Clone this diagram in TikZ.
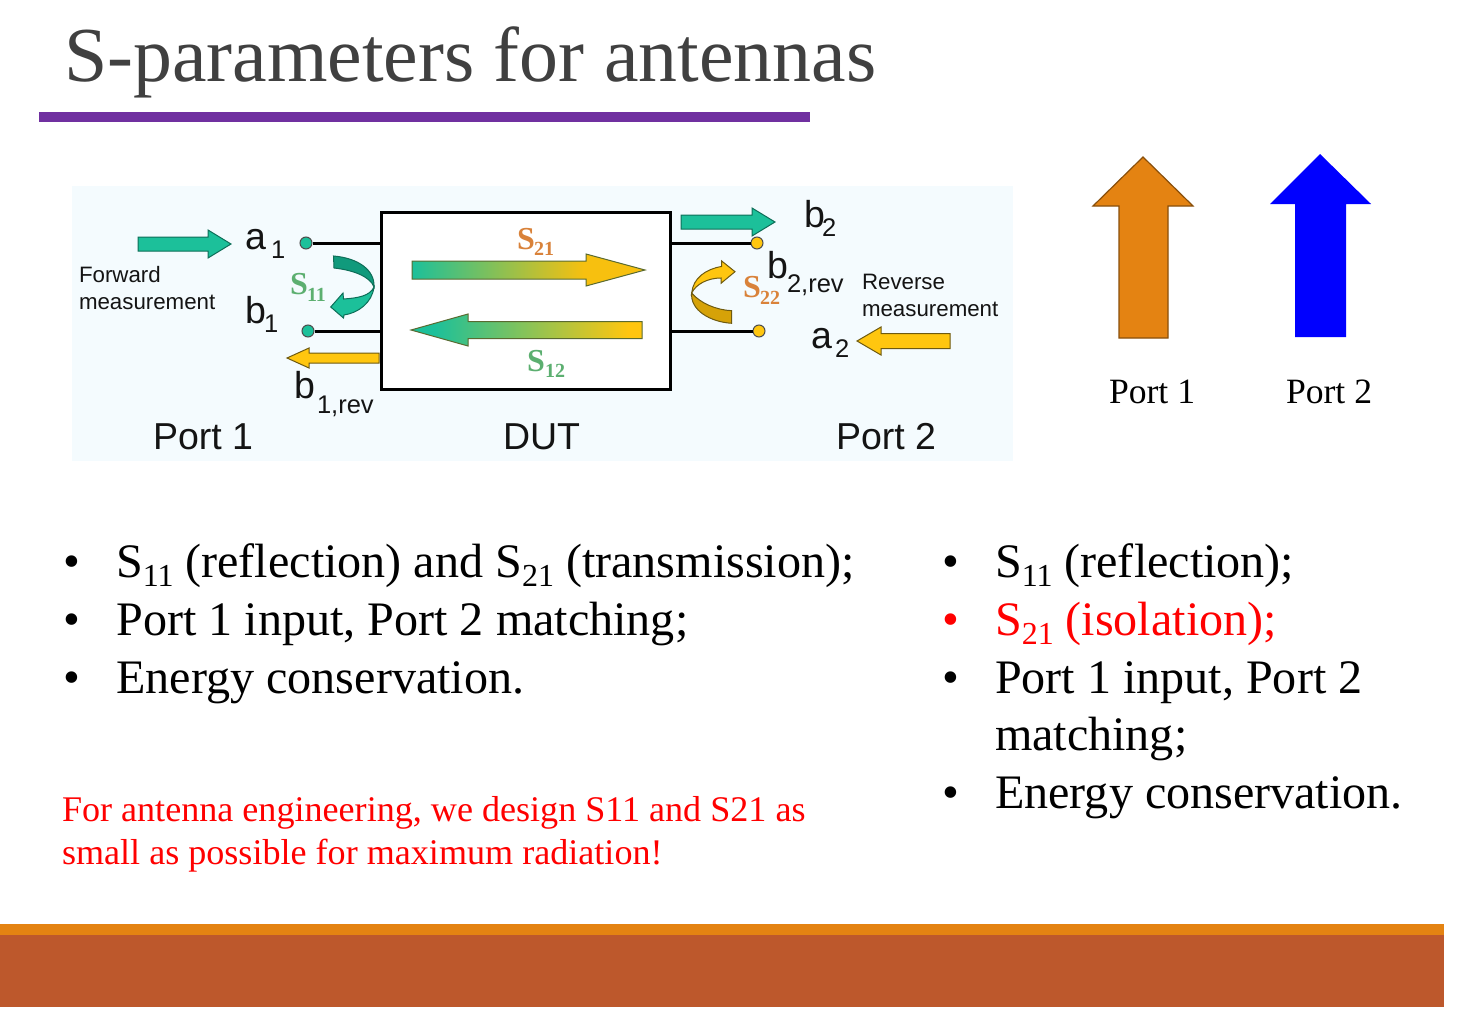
\documentclass[tikz,border=0pt]{standalone}
\usepackage{fontspec}
\setmainfont{Liberation Serif}
\newfontfamily\labelsans{Liberation Sans}
\definecolor{titlegrey}{HTML}{404040}
\definecolor{rulepurple}{HTML}{7030A0}
\definecolor{barorange}{HTML}{E48312}
\definecolor{barbrown}{HTML}{BD582C}
\definecolor{panelblue}{HTML}{F4FBFE}
\definecolor{inkdark}{HTML}{141414}
\definecolor{tealfill}{HTML}{1CC09A}
\definecolor{tealdark}{HTML}{109A7C}
\definecolor{tealedge}{HTML}{0E6E58}
\definecolor{amberfill}{HTML}{FFC60F}
\definecolor{amberdark}{HTML}{D6A208}
\definecolor{amberedge}{HTML}{6E5A10}
\definecolor{blendedge}{HTML}{5A6A30}
\definecolor{slabelorange}{HTML}{D9823A}
\definecolor{slabelgreen}{HTML}{5CAF70}
\definecolor{upred}{HTML}{FF0000}
% Gradients for the two transmission arrows: the amber or teal end stays solid over the head
\pgfdeclarehorizontalshading{forwardblend}{100bp}{color(0bp)=(tealfill); color(25bp)=(tealfill); color(62bp)=(amberfill!97!black); color(100bp)=(amberfill!97!black)}
\pgfdeclarehorizontalshading{reverseblend}{100bp}{color(0bp)=(tealfill); color(30bp)=(tealfill); color(72bp)=(amberfill); color(100bp)=(amberfill)}
% Type sizes are given in pixels of the 1461-wide page (1 px = 0.5 pt)
\newcommand{\pxfont}[1]{\fontsize{\fpeval{#1/2}}{\fpeval{#1/2*1.2}}\selectfont}
\newcommand{\lowered}[1]{\raisebox{-4.5pt}{\pxfont{32}#1}}
% Horizontal block arrow: style, tail x, tip x, y, shaft half height, head base x, head half height
\newcommand{\harrow}[7]{%
  \path[#1] (#2,{#4-#5}) -- (#6,{#4-#5}) -- (#6,{#4-#7}) -- (#3,#4) -- (#6,{#4+#7})
    -- (#6,{#4+#5}) -- (#2,{#4+#5}) -- cycle;}
% Vertical up arrow: style, left, shaft left, centre, shaft right, right, tip y, head base y, bottom y
\newcommand{\uparrowshape}[9]{%
  \path[#1] (#3,#9) -- (#3,#8) -- (#2,#8) -- (#4,#7) -- (#6,#8) -- (#5,#8) -- (#5,#9) -- cycle;}
\tikzset{
  x=0.5pt, y=-0.5pt,
  txt/.style={anchor=base west, inner sep=0pt, outer sep=0pt, font=\pxfont{48.1}, text=black},
  redtxt/.style={txt, font=\pxfont{36.1}, text=upred},
  sanstxt/.style={anchor=base west, inner sep=0pt, outer sep=0pt, text=inkdark},
  smalltxt/.style={sanstxt, font=\labelsans\pxfont{22.3}},
  bigtxt/.style={sanstxt, font=\labelsans\pxfont{37.5}},
  subtxt/.style={sanstxt, font=\labelsans\pxfont{25.5}},
  slabel/.style={anchor=base west, inner sep=0pt, outer sep=0pt, font=\bfseries\pxfont{32}},
  sindex/.style={anchor=base west, inner sep=0pt, outer sep=0pt, font=\bfseries\pxfont{20}},
  terminal/.style={circle, draw=black!70, line width=0.5pt, minimum size=6pt, inner sep=0pt},
  wire/.style={draw=black, line width=1.5pt},
  tealarrow/.style={draw=tealedge, line width=0.5pt, fill=tealfill},
  amberarrow/.style={draw=amberedge, line width=0.5pt, fill=amberfill},
  forwardarrow/.style={draw=blendedge, line width=0.5pt, shading=forwardblend},
  reversearrow/.style={draw=blendedge, line width=0.5pt, shading=reverseblend},
}
\begin{document}
\begin{tikzpicture}
\useasboundingbox (0,0) rectangle (1461,1022);
\fill[white] (0,0) rectangle (1461,1022);

% Heading and rule
\node[txt, font=\pxfont{77.8}, text=titlegrey] (title) at (64,82) {S-parameters for antennas};
\fill[rulepurple] (39,112) rectangle (810,122);

% Measurement panel
\fill[panelblue] (72,186) rectangle (1013,461);
\node[draw=black, line width=1.5pt, fill=white, minimum width=144.5pt, minimum height=88.5pt,
      inner sep=0pt, outer sep=0pt, anchor=north west] (dut) at (381,212) {};

% Port terminals and their wires
\node[terminal, fill=tealfill] (ta1) at (306,243) {};
\node[terminal, fill=tealfill] (tb1) at (308,331) {};
\node[terminal, fill=amberfill] (tb2) at (757,243) {};
\node[terminal, fill=amberfill] (ta2) at (759,331) {};
\draw[wire] (ta1) -- (ta1 -| dut.west);
\draw[wire] (tb1) -- (tb1 -| dut.west);
\draw[wire] (tb2) -- (tb2 -| dut.east);
\draw[wire] (ta2) -- (ta2 -| dut.east);

% Wave arrows
\harrow{tealarrow}{138}{231}{244}{7}{208}{14}
\harrow{amberarrow}{379}{287}{358}{5}{309}{10}
\harrow{forwardarrow}{412}{645}{270}{9}{586}{16}
\harrow{reversearrow}{642}{411}{330}{8.5}{468}{16}
\harrow{tealarrow}{681}{775}{222}{7}{752}{14}
\harrow{amberarrow}{950}{857}{341}{7.5}{881}{14}

% Reflection arrow at port 1
\path[draw=tealedge, line width=0.5pt, fill=tealdark]
  (333.5,256) .. controls (358,258) and (375,270) .. (374,287)
  .. controls (370,276) and (352,270) .. (334,268) -- cycle;
\path[draw=tealedge, line width=0.5pt, fill=tealfill]
  (374,287) .. controls (372,303) and (358,313) .. (344,315)
  -- (343.5,318) -- (330.7,307) -- (343,293) -- (343.5,299)
  .. controls (358,298) and (370,296) .. (374,287) -- cycle;

% Reflection arrow at port 2
\path[draw=amberedge, line width=0.5pt, fill=amberdark]
  (691.7,293) .. controls (700,303) and (716,310) .. (731.7,310.7)
  -- (731.7,323.3) .. controls (710,322) and (690,310) .. (691.7,293) -- cycle;
\path[draw=amberedge, line width=0.5pt, fill=amberfill]
  (691.7,293) .. controls (693,278) and (706,269) .. (721.5,266.5)
  -- (721.7,261) -- (735,271.7) -- (721,283.3) -- (721,278)
  .. controls (708,278) and (696,284) .. (691.7,293) -- cycle;

% S-parameter labels on the panel
\node[slabel, text=slabelorange] (s21) at (517,249) {S};
\node[sindex, text=slabelorange] (s21i) at (534,255) {21};
\node[slabel, text=slabelgreen] (s12) at (527,371) {S};
\node[sindex, text=slabelgreen] (s12i) at (545,377) {12};
\node[slabel, text=slabelgreen] (s11) at (290,294) {S};
\node[sindex, text=slabelgreen] (s11i) at (307,301) {11};
\node[slabel, text=slabelorange] (s22) at (743,297) {S};
\node[sindex, text=slabelorange] (s22i) at (760,304) {22};

% Wave symbols
\node[bigtxt] (a1) at (245,249) {a};
\node[subtxt] (a1i) at (271,258) {1};
\node[bigtxt] (b1) at (245,323) {b};
\node[subtxt] (b1i) at (264,332) {1};
\node[bigtxt] (b1r) at (294,398) {b};
\node[subtxt] (b1ri) at (317,413) {1,rev};
\node[bigtxt] (b2) at (804,227) {b};
\node[subtxt] (b2i) at (822,236) {2};
\node[bigtxt] (b2r) at (767,278) {b};
\node[subtxt] (b2ri) at (787,292) {2,rev};
\node[bigtxt] (a2) at (811,348) {a};
\node[subtxt] (a2i) at (835,357) {2};

% Panel captions
\node[smalltxt] (fw1) at (79,282) {Forward};
\node[smalltxt] (fw2) at (79,309) {measurement};
\node[smalltxt] (rv1) at (862,289) {Reverse};
\node[smalltxt] (rv2) at (862,316) {measurement};
\node[bigtxt] (p1) at (153,449.5) {Port 1};
\node[bigtxt] (pd) at (503,449.5) {DUT};
\node[bigtxt] (p2) at (836,449.5) {Port 2};

% Port excitation arrows
\uparrowshape{draw=black!40!barorange, line width=0.6pt, fill=barorange}{1093}{1119}{1143}{1168}{1193}{157}{206}{338}
\uparrowshape{fill=blue}{1270}{1295}{1320}{1346}{1371}{154}{204}{337}
\node[txt, font=\pxfont{35.6}] (up1) at (1109,403) {Port 1};
\node[txt, font=\pxfont{35.6}] (up2) at (1286,403) {Port 2};

% Left bullet list
\node[txt] (lb1) at (63,577) {•};
\node[txt] (lt1) at (116,577) {S\lowered{11} (reflection) and S\lowered{21} (transmission);};
\node[txt] (lb2) at (63,635) {•};
\node[txt] (lt2) at (116.5,635) {Port 1 input, Port 2 matching;};
\node[txt] (lb3) at (63,693) {•};
\node[txt] (lt3) at (116.5,693) {Energy conservation.};

% Design note
\node[redtxt] (n1) at (62,821) {For antenna engineering, we design S11 and S21 as};
\node[redtxt] (n2) at (62,864.5) {small as possible for maximum radiation!};

% Right bullet list
\node[txt] (rb1) at (942,577) {•};
\node[txt] (rt1) at (995,577) {S\lowered{11} (reflection);};
\node[txt, text=upred] (rb2) at (942,635) {•};
\node[txt, text=upred] (rt2) at (995,635) {S\lowered{21} (isolation);};
\node[txt] (rb3) at (942,693) {•};
\node[txt] (rt3) at (995,693) {Port 1 input, Port 2};
\node[txt] (rt3b) at (995,750) {matching;};
\node[txt] (rb4) at (942,808) {•};
\node[txt] (rt4) at (995,808) {Energy conservation.};

% Footer bands
\fill[barorange] (0,924) rectangle (1444,935);
\fill[barbrown] (0,935) rectangle (1444,1007);
\end{tikzpicture}
\end{document}
